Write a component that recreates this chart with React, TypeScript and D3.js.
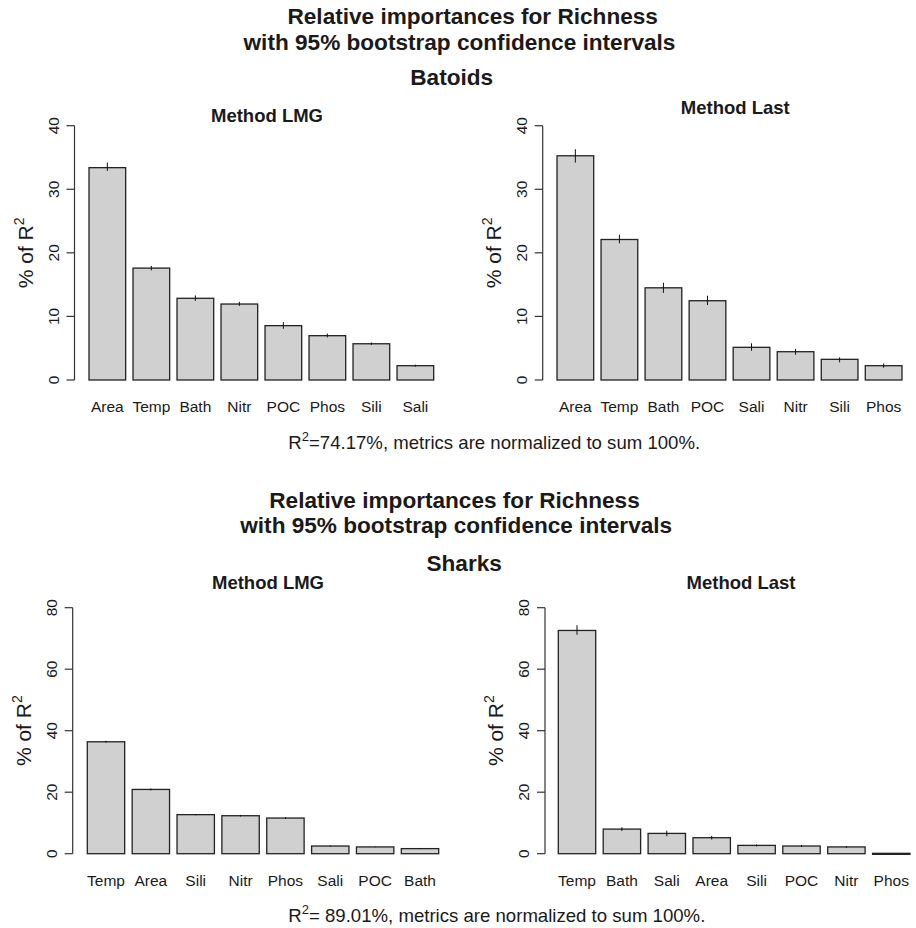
import React from "react";
import { scaleBand, scaleLinear } from "d3";

// Batoids, method LMG
const batLmgCats = ["Area", "Temp", "Bath", "Nitr", "POC", "Phos", "Sili", "Sali"];
const batLmgVals = [33.4, 17.6, 12.85, 11.95, 8.55, 6.97, 5.7, 2.25];
const batLmgLo = [32.9, 17.25, 12.45, 11.65, 8.05, 6.7, 5.5, 2.1];
const batLmgHi = [34.2, 17.95, 13.3, 12.3, 9.1, 7.3, 5.9, 2.4];

// Batoids, method Last
const batLastCats = ["Area", "Temp", "Bath", "POC", "Sali", "Nitr", "Sili", "Phos"];
const batLastVals = [35.27, 22.1, 14.5, 12.47, 5.14, 4.45, 3.25, 2.25];
const batLastLo = [34.2, 21.5, 13.7, 11.8, 4.6, 3.98, 2.78, 1.93];
const batLastHi = [36.3, 22.85, 15.3, 13.25, 5.77, 4.9, 3.57, 2.6];

// Sharks, method LMG
const shkLmgCats = ["Temp", "Area", "Sili", "Nitr", "Phos", "Sali", "POC", "Bath"];
const shkLmgVals = [36.4, 20.9, 12.7, 12.35, 11.6, 2.5, 2.2, 1.65];
const shkLmgLo = [36.1, 20.6, 12.5, 12.1, 11.3, 2.3, 2.1, 1.5];
const shkLmgHi = [36.7, 21.2, 12.9, 12.6, 11.9, 2.7, 2.3, 1.8];

// Sharks, method Last
const shkLastCats = ["Temp", "Bath", "Sali", "Area", "Sili", "POC", "Nitr", "Phos"];
const shkLastVals = [72.6, 8.0, 6.6, 5.2, 2.7, 2.5, 2.2, 0.12];
const shkLastLo = [71.2, 7.4, 5.7, 4.6, 2.4, 2.2, 1.9, 0.0];
const shkLastHi = [74.3, 8.6, 7.5, 5.8, 3.0, 2.8, 2.5, 0.2];

const batTicks = [0, 10, 20, 30, 40];
const shkTicks = [0, 20, 40, 60, 80];

const FONT = "'Liberation Sans', Arial, Helvetica, sans-serif";
const INK = "#1a1a1a";

type PanelProps = {
  title: string;
  titleX: number;
  titleY: number;
  axisX: number;
  barLeft: number;
  barRight: number;
  y0: number;
  yTop: number;
  ticks: number[];
  cats: string[];
  vals: number[];
  lo: number[];
  hi: number[];
};

function Panel(p: PanelProps) {
  const maxTick = p.ticks[p.ticks.length - 1];
  const x = scaleBand<string>()
    .domain(p.cats)
    .range([p.barLeft, p.barRight])
    .paddingInner(1 / 6)
    .paddingOuter(0);
  const y = scaleLinear().domain([0, maxTick]).range([p.y0, p.yTop]);
  const bw = x.bandwidth();
  const midY = (y(0) + y(maxTick)) / 2;

  return (
    <g>
      <text
        x={p.titleX}
        y={p.titleY}
        textAnchor="middle"
        fontWeight="bold"
        fontSize={18.5}
        fill={INK}
      >
        {p.title}
      </text>

      {/* bars */}
      {p.cats.map((c, i) => (
        <rect
          key={c}
          x={x(c)}
          y={y(p.vals[i])}
          width={bw}
          height={Math.max(1, y(0) - y(p.vals[i]))}
          fill="#cfd0cf"
          stroke="#222"
          strokeWidth={1.3}
        />
      ))}

      {/* bootstrap intervals */}
      {p.cats.map((c, i) => (
        <line
          key={c + "-ci"}
          x1={(x(c) as number) + bw / 2}
          x2={(x(c) as number) + bw / 2}
          y1={y(p.lo[i])}
          y2={y(p.hi[i])}
          stroke="#111"
          strokeWidth={1}
        />
      ))}

      {/* category labels */}
      {p.cats.map((c) => (
        <text
          key={c + "-lab"}
          x={(x(c) as number) + bw / 2}
          y={p.y0 + 32}
          textAnchor="middle"
          fontSize={15.5}
          fill={INK}
        >
          {c}
        </text>
      ))}

      {/* y axis */}
      <line
        x1={p.axisX}
        x2={p.axisX}
        y1={y(0)}
        y2={y(maxTick)}
        stroke="#333"
        strokeWidth={1.2}
      />
      {p.ticks.map((t) => (
        <g key={t}>
          <line
            x1={p.axisX - 8}
            x2={p.axisX}
            y1={y(t)}
            y2={y(t)}
            stroke="#333"
            strokeWidth={1.2}
          />
          <text
            transform={`translate(${p.axisX - 16},${y(t)}) rotate(-90)`}
            textAnchor="middle"
            fontSize={15.5}
            fill={INK}
          >
            {t}
          </text>
        </g>
      ))}

      <text
        transform={`translate(${p.axisX - 42},${midY}) rotate(-90)`}
        textAnchor="middle"
        fontSize={21}
        fill={INK}
      >
        % of R
        <tspan fontSize={14} dy={-9}>
          2
        </tspan>
      </text>
    </g>
  );
}

function Footer({ x, y, rest }: { x: number; y: number; rest: string }) {
  return (
    <text x={x} y={y} fontSize={18.6} fill={INK}>
      R
      <tspan fontSize={13} dy={-8}>
        2
      </tspan>
      <tspan dy={8}>{rest}</tspan>
    </text>
  );
}

export default function App() {
  return (
    <svg
      width={916}
      height={928}
      style={{ position: "absolute", left: 0, top: 0, background: "#fff" }}
      fontFamily={FONT}
    >
      <rect width={916} height={928} fill="#fff" />

      {/* Batoids */}
      <g fontWeight="bold" fontSize={22.6} fill={INK} textAnchor="middle">
        <text x={472.7} y={24}>Relative importances for Richness</text>
        <text x={459.5} y={50}>with 95% bootstrap confidence intervals</text>
        <text x={451.7} y={85}>Batoids</text>
      </g>
      <Panel
        title="Method LMG"
        titleX={267}
        titleY={122}
        axisX={74.5}
        barLeft={89}
        barRight={433.7}
        y0={380}
        yTop={125.7}
        ticks={batTicks}
        cats={batLmgCats}
        vals={batLmgVals}
        lo={batLmgLo}
        hi={batLmgHi}
      />
      <Panel
        title="Method Last"
        titleX={735.3}
        titleY={114}
        axisX={542.7}
        barLeft={557}
        barRight={902}
        y0={380}
        yTop={125.7}
        ticks={batTicks}
        cats={batLastCats}
        vals={batLastVals}
        lo={batLastLo}
        hi={batLastHi}
      />
      <Footer x={288.3} y={449} rest="=74.17%, metrics are normalized to sum 100%." />

      {/* Sharks */}
      <g fontWeight="bold" fontSize={22.6} fill={INK} textAnchor="middle">
        <text x={454.5} y={508}>Relative importances for Richness</text>
        <text x={456.2} y={533}>with 95% bootstrap confidence intervals</text>
        <text x={464.2} y={571}>Sharks</text>
      </g>
      <Panel
        title="Method LMG"
        titleX={268}
        titleY={589}
        axisX={72.7}
        barLeft={87.3}
        barRight={438.7}
        y0={853.7}
        yTop={607.7}
        ticks={shkTicks}
        cats={shkLmgCats}
        vals={shkLmgVals}
        lo={shkLmgLo}
        hi={shkLmgHi}
      />
      <Panel
        title="Method Last"
        titleX={741}
        titleY={589}
        axisX={545}
        barLeft={558.3}
        barRight={910}
        y0={853.7}
        yTop={607.7}
        ticks={shkTicks}
        cats={shkLastCats}
        vals={shkLastVals}
        lo={shkLastLo}
        hi={shkLastHi}
      />
      <Footer x={288.3} y={922} rest="= 89.01%, metrics are normalized to sum 100%." />
    </svg>
  );
}
